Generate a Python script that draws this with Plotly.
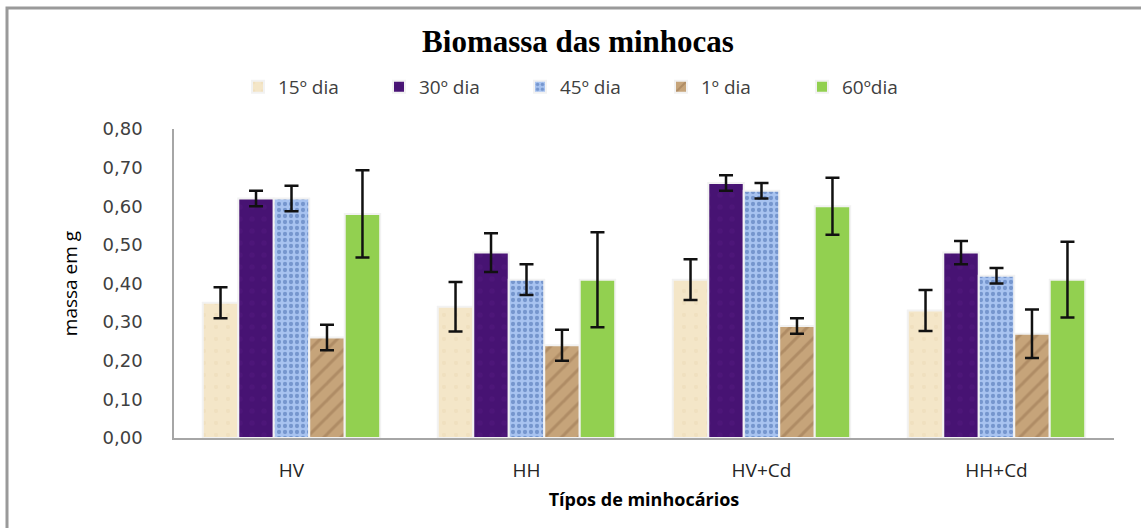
import plotly.graph_objects as go

categories = ["HV", "HH", "HV+Cd", "HH+Cd"]
series_names = ["15º dia", "30º dia", "45º dia", "1º dia", "60ºdia"]

dia15 = [0.35, 0.34, 0.41, 0.33]
dia30 = [0.62, 0.48, 0.66, 0.48]
dia45 = [0.62, 0.41, 0.64, 0.42]
dia1 = [0.26, 0.24, 0.29, 0.27]
dia60 = [0.58, 0.41, 0.60, 0.41]

err15 = [0.040, 0.064, 0.053, 0.053]
err30 = [0.020, 0.050, 0.020, 0.030]
err45 = [0.033, 0.040, 0.020, 0.020]
err1 = [0.033, 0.040, 0.020, 0.063]
err60 = [0.113, 0.123, 0.074, 0.098]

y_ticks = [0.0, 0.1, 0.2, 0.3, 0.4, 0.5, 0.6, 0.7, 0.8]
y_tick_labels = ["0,00", "0,10", "0,20", "0,30", "0,40", "0,50", "0,60", "0,70", "0,80"]

values = [dia15, dia30, dia45, dia1, dia60]
errors = [err15, err30, err45, err1, err60]

styles = [
    dict(color="#F2E2C2", pattern=dict(shape=".", fgcolor="#EBDAB6", bgcolor="#F4E6C8", size=12, solidity=0.1)),
    dict(color="#4A1676", pattern=dict(shape=".", fgcolor="#53197F", bgcolor="#471373", size=12, solidity=0.15)),
    dict(color="#A3BEEC", pattern=dict(shape=".", fgcolor="#4469AC", bgcolor="#A8C3F0", size=6, solidity=0.4)),
    dict(color="#B8946A", pattern=dict(shape="/", fgcolor="#977350", bgcolor="#C6A47A", size=12, solidity=0.25)),
    dict(color="#92D050"),
]

fig = go.Figure()
for name, vals, errs, st in zip(series_names, values, errors, styles):
    marker = dict(color=st["color"], line=dict(color="#F2F2F2", width=2))
    if "pattern" in st:
        marker["pattern"] = st["pattern"]
    fig.add_trace(go.Bar(
        name=name,
        x=categories,
        y=vals,
        marker=marker,
        error_y=dict(type="data", array=errs, visible=True, color="#111111",
                     thickness=2.5, width=7),
    ))

fig.update_layout(
    width=1141,
    height=528,
    paper_bgcolor="white",
    plot_bgcolor="white",
    barmode="group",
    bargap=0.245,
    bargroupgap=0.0,
    margin=dict(l=174, r=27, t=129, b=90),
    title=dict(
        text="<b>Biomassa das minhocas</b>",
        font=dict(family="Liberation Serif, Times New Roman, serif", size=31, color="#000000"),
        x=578 / 1141, xanchor="center", xref="container",
        y=1 - 41 / 528, yanchor="middle", yref="container",
    ),
    legend=dict(
        orientation="h",
        x=238 / 1141, xanchor="left", xref="container",
        y=1 - 87 / 528, yanchor="middle", yref="container",
        font=dict(family="Open Sans, sans-serif", size=19, color="#404040"),
        entrywidth=96, entrywidthmode="pixels",
        bgcolor="rgba(0,0,0,0)",
    ),
    font=dict(family="Open Sans, sans-serif", color="#404040"),
    showlegend=True,
)

fig.update_yaxes(
    range=[0, 0.8],
    tickvals=y_ticks,
    ticktext=y_tick_labels,
    showgrid=False,
    zeroline=False,
    showline=True,
    linecolor="#A6A6A6",
    linewidth=1.5,
    ticks="",
    ticklabelstandoff=26,
    tickfont=dict(family="DejaVu Sans, sans-serif", size=18, color="#404040"),
    title=dict(text="massa em g", standoff=20,
               font=dict(family="Liberation Sans Narrow, Open Sans, sans-serif", size=19, color="#000000")),
)

fig.update_xaxes(
    showgrid=False,
    showline=True,
    linecolor="#A6A6A6",
    linewidth=2,
    ticks="",
    ticklabelstandoff=14,
    tickfont=dict(family="Open Sans, sans-serif", size=19, color="#262626"),
    title=dict(text="<b>Típos de minhocários</b>", standoff=12,
               font=dict(family="Open Sans, sans-serif", size=18, color="#000000")),
)

# outer chart border (partially visible in the reference)
fig.add_shape(
    type="rect", xref="paper", yref="paper",
    x0=(7 - 174) / 940, x1=(1160 - 174) / 940,
    y0=(438 - 540) / 309, y1=(438 - 8) / 309,
    line=dict(color="#9A9A9A", width=3),
    fillcolor="rgba(0,0,0,0)",
    layer="below",
)

fig.write_html("out.html", config={"displayModeBar": False},
               post_script="document.body.style.margin='0';document.body.style.overflow='hidden';")
